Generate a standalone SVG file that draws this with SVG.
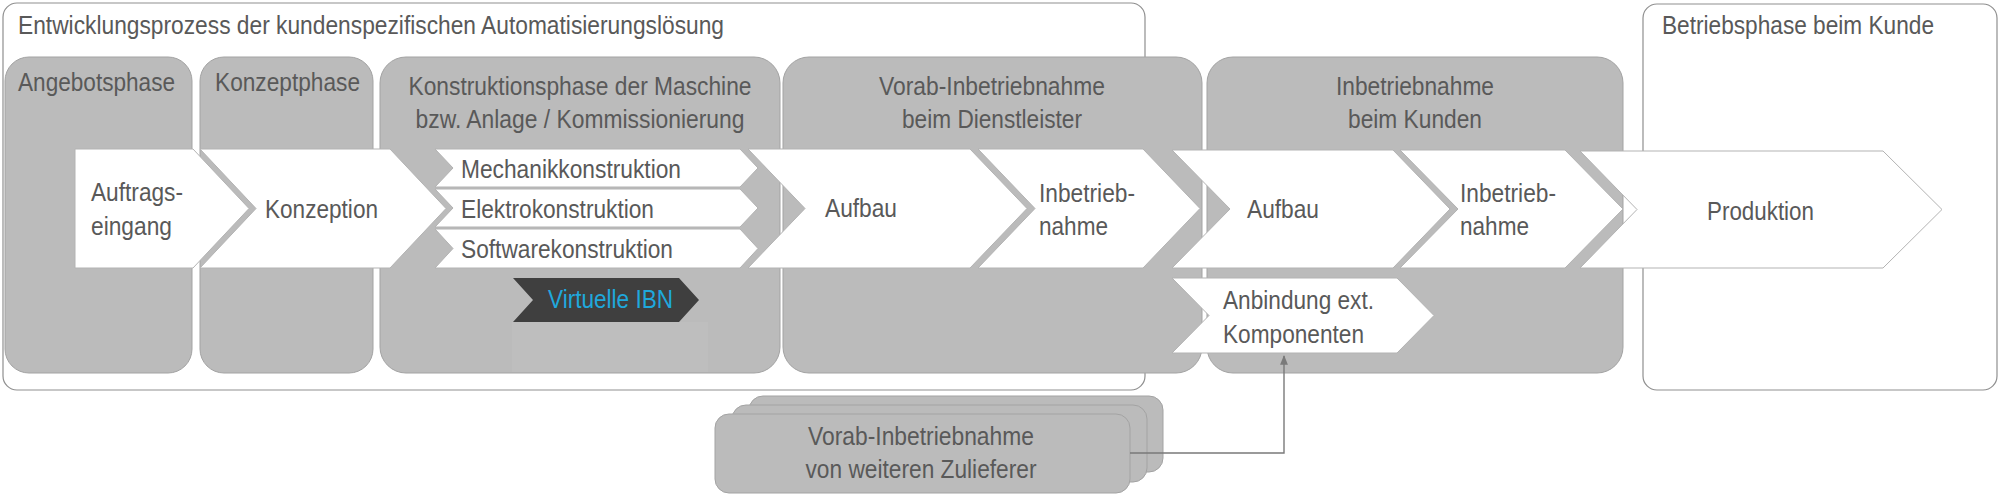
<svg xmlns="http://www.w3.org/2000/svg" width="2000" height="502" viewBox="0 0 2000 502">
<style>
text{font-family:"Liberation Sans",Arial,sans-serif;font-size:26px;fill:#595959}
.frame{fill:#ffffff;stroke:#8f8f8f;stroke-width:1.2}
.phase{fill:#bbbbbb;stroke:#a3a3a3;stroke-width:1}
.chev{fill:#ffffff;stroke:#b3b3b3;stroke-width:1}
.mid{text-anchor:middle}
.conn{fill:none;stroke:#7a7a7a;stroke-width:1.4}
</style>
<defs>
<marker id="arr" viewBox="0 0 10 10" refX="9" refY="5" markerWidth="7" markerHeight="7" orient="auto">
<path d="M0,1 L10,5 L0,9 z" fill="#7a7a7a"/>
</marker>
</defs>
<rect width="2000" height="502" fill="#ffffff"/>

<g id="frame-entwicklung">
<rect class="frame" x="3" y="3" width="1142" height="387" rx="14"/>
<text x="18" y="34" textLength="706" lengthAdjust="spacingAndGlyphs">Entwicklungsprozess der kundenspezifischen Automatisierungslösung</text>
</g>
<g id="frame-betrieb">
<rect class="frame" x="1643" y="4" width="354" height="386" rx="14"/>
<text x="1662" y="34" textLength="272" lengthAdjust="spacingAndGlyphs">Betriebsphase beim Kunde</text>
</g>

<g id="phase-angebot">
<rect class="phase" x="5" y="57" width="187" height="316" rx="24"/>
<text x="18" y="91" textLength="157" lengthAdjust="spacingAndGlyphs">Angebotsphase</text>
</g>
<g id="phase-konzept">
<rect class="phase" x="200" y="57" width="173" height="316" rx="24"/>
<text x="215" y="91" textLength="145" lengthAdjust="spacingAndGlyphs">Konzeptphase</text>
</g>
<g id="phase-konstruktion">
<rect class="phase" x="380" y="57" width="400" height="316" rx="26"/>
<rect x="512" y="322" width="196" height="50" fill="#bebebe"/>
<text class="mid" x="580" y="95" textLength="343" lengthAdjust="spacingAndGlyphs">Konstruktionsphase der Maschine</text>
<text class="mid" x="580" y="128" textLength="329" lengthAdjust="spacingAndGlyphs">bzw. Anlage / Kommissionierung</text>
</g>
<g id="phase-vorab">
<rect class="phase" x="783" y="57" width="419" height="316" rx="26"/>
<text class="mid" x="992" y="95" textLength="226" lengthAdjust="spacingAndGlyphs">Vorab-Inbetriebnahme</text>
<text class="mid" x="992" y="128" textLength="180" lengthAdjust="spacingAndGlyphs">beim Dienstleister</text>
</g>
<g id="phase-kunde">
<rect class="phase" x="1207" y="57" width="416" height="316" rx="26"/>
<text class="mid" x="1415" y="95" textLength="158" lengthAdjust="spacingAndGlyphs">Inbetriebnahme</text>
<text class="mid" x="1415" y="128" textLength="134" lengthAdjust="spacingAndGlyphs">beim Kunden</text>
</g>

<g id="zulieferer">
<rect class="phase" x="749" y="396" width="414" height="76" rx="14"/>
<rect class="phase" x="732" y="405" width="415" height="77" rx="14"/>
<rect class="phase" x="715" y="414" width="415" height="79" rx="14"/>
<text class="mid" x="921" y="445" textLength="226" lengthAdjust="spacingAndGlyphs">Vorab-Inbetriebnahme</text>
<text class="mid" x="921" y="478" textLength="231" lengthAdjust="spacingAndGlyphs">von weiteren Zulieferer</text>
</g>

<g id="connectors">
<path class="conn" d="M1130,453 H1284 V356" marker-end="url(#arr)"/>
</g>

<g id="step-auftrag">
<polygon class="chev" points="75,149 193,149 249,208.5 193,268 75,268"/>
<text x="91" y="201" textLength="92" lengthAdjust="spacingAndGlyphs">Auftrags-</text>
<text x="91" y="235" textLength="81" lengthAdjust="spacingAndGlyphs">eingang</text>
</g>
<g id="step-konzeption">
<polygon class="chev" points="200,149 390,149 446,208.5 390,268 200,268 256,208.5"/>
<text x="265" y="218" textLength="113" lengthAdjust="spacingAndGlyphs">Konzeption</text>
</g>
<g id="step-mechanik">
<polygon class="chev" points="435,149 740,149 758,168 740,187 435,187 453,168"/>
<text x="461" y="178" textLength="220" lengthAdjust="spacingAndGlyphs">Mechanikkonstruktion</text>
</g>
<g id="step-elektro">
<polygon class="chev" points="435,189 740,189 758,208 740,227 435,227 453,208"/>
<text x="461" y="218" textLength="193" lengthAdjust="spacingAndGlyphs">Elektrokonstruktion</text>
</g>
<g id="step-software">
<polygon class="chev" points="435,229 740,229 758,248.5 740,268 435,268 453,248.5"/>
<text x="461" y="258" textLength="212" lengthAdjust="spacingAndGlyphs">Softwarekonstruktion</text>
</g>
<g id="step-virtuelle-ibn">
<polygon points="513,278 679,278 699,300 679,322 513,322 533,300" fill="#3f3f3f"/>
<text x="548" y="308" textLength="125" lengthAdjust="spacingAndGlyphs" style="fill:#1fa8dc">Virtuelle IBN</text>
</g>
<g id="step-aufbau-vorab">
<polygon class="chev" points="748,149 970,149 1027,208.5 970,268 748,268 805,208.5"/>
<text x="825" y="217" textLength="72" lengthAdjust="spacingAndGlyphs">Aufbau</text>
</g>
<g id="step-ibn-vorab">
<polygon class="chev" points="978,149 1143,149 1200,208.5 1143,268 978,268 1035,208.5"/>
<text x="1039" y="202" textLength="96" lengthAdjust="spacingAndGlyphs">Inbetrieb-</text>
<text x="1039" y="235" textLength="69" lengthAdjust="spacingAndGlyphs">nahme</text>
</g>
<g id="step-aufbau-kunde">
<polygon class="chev" points="1172,150 1393,150 1450,209 1393,268 1172,268 1230,209"/>
<text x="1247" y="218" textLength="72" lengthAdjust="spacingAndGlyphs">Aufbau</text>
</g>
<g id="step-ibn-kunde">
<polygon class="chev" points="1400,150 1565,150 1623,209 1565,268 1400,268 1458,209"/>
<text x="1460" y="202" textLength="96" lengthAdjust="spacingAndGlyphs">Inbetrieb-</text>
<text x="1460" y="235" textLength="69" lengthAdjust="spacingAndGlyphs">nahme</text>
</g>
<g id="step-produktion">
<polygon class="chev" points="1580,151 1883,151 1942,209.5 1883,268 1580,268 1637,209.5"/>
<text x="1707" y="220" textLength="107" lengthAdjust="spacingAndGlyphs">Produktion</text>
</g>
<g id="step-anbindung">
<polygon class="chev" points="1172,278 1397,278 1434,315.5 1397,353 1172,353 1209,315.5"/>
<text x="1223" y="309" textLength="151" lengthAdjust="spacingAndGlyphs">Anbindung ext.</text>
<text x="1223" y="343" textLength="141" lengthAdjust="spacingAndGlyphs">Komponenten</text>
</g>
</svg>
